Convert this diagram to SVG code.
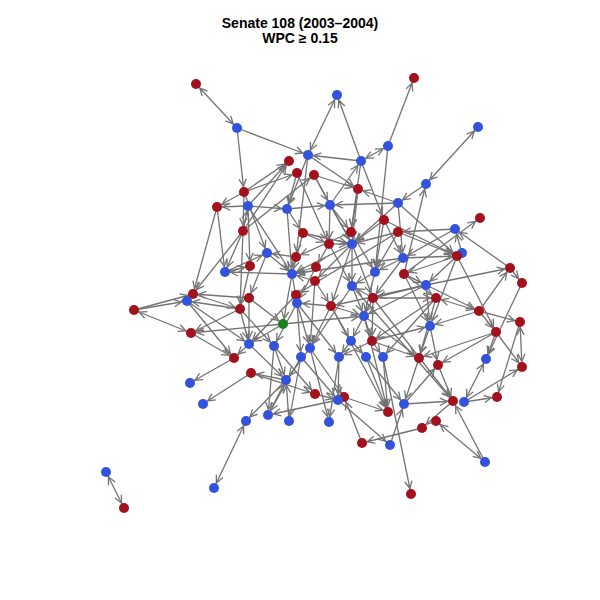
<svg xmlns="http://www.w3.org/2000/svg" width="600" height="600" viewBox="0 0 600 600">
<style>
.t{font-family:"Liberation Sans",Arial,sans-serif;font-weight:bold;font-size:14px;fill:#000;text-anchor:middle}
.e line{stroke:#737373;stroke-width:1.3;marker-end:url(#a)}
.e line.b{marker-start:url(#a)}
.R{fill:#A3111C}
.B{fill:#3352DD}
.G{fill:#1E7F1E}
</style>
<defs>
<marker id="a" viewBox="-15 -5 16 10" refX="0" refY="0" markerWidth="16" markerHeight="10" markerUnits="userSpaceOnUse" orient="auto-start-reverse">
<path d="M-13,-3.6 L-5.6,0 L-13,3.6" fill="none" stroke="#737373" stroke-width="1.3"/>
</marker>
</defs>
<rect width="600" height="600" fill="#fff"/>
<text class="t" x="300" y="28">Senate 108 (2003–2004)</text>
<text class="t" x="300" y="43">WPC ≥ 0.15</text>
<g id="edges" class="e">
<line class="b" x1="196" y1="84" x2="237" y2="128"/>
<line x1="237" y1="128" x2="308" y2="155"/>
<line x1="237" y1="128" x2="244" y2="192"/>
<line class="b" x1="308" y1="155" x2="337" y2="95"/>
<line x1="361" y1="161" x2="337" y2="95"/>
<line x1="361" y1="161" x2="308" y2="155"/>
<line class="b" x1="388" y1="146" x2="361" y2="161"/>
<line x1="388" y1="146" x2="414" y2="78"/>
<line class="b" x1="478" y1="127" x2="426" y2="184"/>
<line x1="426" y1="184" x2="398" y2="203"/>
<line x1="404" y1="274" x2="426" y2="184"/>
<line x1="398" y1="203" x2="330" y2="205"/>
<line x1="398" y1="203" x2="358" y2="189"/>
<line x1="330" y1="205" x2="361" y2="161"/>
<line x1="308" y1="155" x2="358" y2="189"/>
<line x1="314" y1="175" x2="358" y2="189"/>
<line x1="244" y1="192" x2="289" y2="161"/>
<line x1="248" y1="206" x2="289" y2="161"/>
<line x1="244" y1="192" x2="217" y2="207"/>
<line x1="248" y1="206" x2="217" y2="207"/>
<line x1="244" y1="192" x2="297" y2="173"/>
<line x1="243" y1="231" x2="289" y2="161"/>
<line x1="243" y1="231" x2="314" y2="175"/>
<line x1="308" y1="155" x2="296" y2="257"/>
<line x1="287" y1="209" x2="330" y2="205"/>
<line x1="314" y1="175" x2="352" y2="244"/>
<line x1="358" y1="189" x2="352" y2="244"/>
<line x1="330" y1="205" x2="352" y2="244"/>
<line x1="361" y1="161" x2="384" y2="220"/>
<line x1="361" y1="161" x2="351" y2="232"/>
<line x1="388" y1="146" x2="375" y2="272"/>
<line x1="384" y1="220" x2="352" y2="244"/>
<line x1="329" y1="244" x2="352" y2="244"/>
<line x1="330" y1="205" x2="329" y2="244"/>
<line x1="398" y1="203" x2="403" y2="258"/>
<line x1="455" y1="229" x2="398" y2="232"/>
<line x1="398" y1="232" x2="457" y2="256"/>
<line x1="404" y1="274" x2="480" y2="218"/>
<line x1="403" y1="258" x2="457" y2="256"/>
<line x1="384" y1="220" x2="457" y2="256"/>
<line x1="398" y1="203" x2="457" y2="256"/>
<line x1="457" y1="256" x2="430" y2="326"/>
<line x1="373" y1="298" x2="436" y2="298"/>
<line x1="510" y1="268" x2="455" y2="229"/>
<line x1="404" y1="274" x2="426" y2="285"/>
<line x1="457" y1="256" x2="426" y2="285"/>
<line x1="426" y1="285" x2="510" y2="268"/>
<line x1="510" y1="268" x2="522" y2="283"/>
<line class="b" x1="436" y1="298" x2="479" y2="311"/>
<line x1="404" y1="274" x2="479" y2="311"/>
<line x1="479" y1="311" x2="520" y2="322"/>
<line x1="479" y1="311" x2="496" y2="332"/>
<line x1="479" y1="311" x2="510" y2="268"/>
<line x1="457" y1="256" x2="496" y2="332"/>
<line x1="522" y1="283" x2="486" y2="359"/>
<line class="b" x1="520" y1="322" x2="522" y2="367"/>
<line x1="496" y1="332" x2="522" y2="367"/>
<line x1="496" y1="332" x2="419" y2="358"/>
<line x1="430" y1="326" x2="438" y2="365"/>
<line x1="372" y1="341" x2="430" y2="326"/>
<line x1="436" y1="298" x2="383" y2="357"/>
<line x1="404" y1="404" x2="453" y2="401"/>
<line x1="485" y1="462" x2="453" y2="401"/>
<line class="b" x1="485" y1="462" x2="436" y2="421"/>
<line x1="464" y1="402" x2="497" y2="397"/>
<line x1="520" y1="322" x2="497" y2="397"/>
<line x1="464" y1="402" x2="522" y2="367"/>
<line class="b" x1="486" y1="359" x2="464" y2="402"/>
<line x1="404" y1="404" x2="438" y2="365"/>
<line x1="390" y1="445" x2="404" y2="404"/>
<line x1="422" y1="428" x2="362" y2="443"/>
<line x1="362" y1="443" x2="344" y2="397"/>
<line x1="453" y1="401" x2="422" y2="428"/>
<line x1="383" y1="357" x2="411" y2="494"/>
<line x1="373" y1="298" x2="453" y2="401"/>
<line x1="352" y1="286" x2="453" y2="401"/>
<line x1="331" y1="306" x2="388" y2="412"/>
<line x1="364" y1="316" x2="388" y2="412"/>
<line class="b" x1="134" y1="310" x2="191" y2="333"/>
<line x1="134" y1="310" x2="187" y2="301"/>
<line x1="134" y1="310" x2="193" y2="294"/>
<line x1="217" y1="207" x2="193" y2="294"/>
<line x1="243" y1="231" x2="193" y2="294"/>
<line x1="249" y1="298" x2="193" y2="294"/>
<line x1="240" y1="309" x2="187" y2="301"/>
<line x1="292" y1="274" x2="225" y2="272"/>
<line x1="225" y1="272" x2="267" y2="253"/>
<line x1="187" y1="301" x2="249" y2="344"/>
<line x1="187" y1="301" x2="234" y2="358"/>
<line x1="191" y1="333" x2="234" y2="358"/>
<line x1="240" y1="309" x2="191" y2="333"/>
<line x1="283" y1="324" x2="191" y2="333"/>
<line x1="234" y1="358" x2="190" y2="383"/>
<line x1="251" y1="373" x2="203" y2="404"/>
<line class="b" x1="246" y1="421" x2="214" y2="488"/>
<line class="b" x1="106" y1="472" x2="124" y2="508"/>
<line x1="286" y1="380" x2="246" y2="421"/>
<line x1="338" y1="400" x2="268" y2="415"/>
<line x1="268" y1="415" x2="286" y2="380"/>
<line x1="251" y1="373" x2="315" y2="394"/>
<line x1="286" y1="380" x2="251" y2="373"/>
<line x1="339" y1="357" x2="329" y2="422"/>
<line x1="315" y1="394" x2="338" y2="400"/>
<line x1="310" y1="348" x2="344" y2="397"/>
<line x1="301" y1="357" x2="338" y2="400"/>
<line x1="303" y1="233" x2="292" y2="274"/>
<line x1="296" y1="257" x2="267" y2="253"/>
<line x1="287" y1="209" x2="292" y2="274"/>
<line x1="248" y1="206" x2="292" y2="274"/>
<line x1="248" y1="206" x2="250" y2="266"/>
<line x1="244" y1="192" x2="267" y2="253"/>
<line x1="243" y1="231" x2="240" y2="309"/>
<line x1="243" y1="231" x2="248" y2="206"/>
<line x1="248" y1="206" x2="287" y2="209"/>
<line x1="316" y1="267" x2="292" y2="274"/>
<line x1="315" y1="281" x2="292" y2="274"/>
<line x1="329" y1="244" x2="316" y2="267"/>
<line x1="292" y1="274" x2="297" y2="303"/>
<line x1="316" y1="267" x2="297" y2="303"/>
<line x1="331" y1="306" x2="297" y2="303"/>
<line x1="352" y1="244" x2="331" y2="306"/>
<line x1="352" y1="244" x2="352" y2="286"/>
<line x1="352" y1="244" x2="373" y2="298"/>
<line x1="351" y1="232" x2="375" y2="272"/>
<line x1="375" y1="272" x2="352" y2="286"/>
<line x1="373" y1="298" x2="352" y2="286"/>
<line x1="352" y1="286" x2="364" y2="316"/>
<line x1="373" y1="298" x2="364" y2="316"/>
<line x1="331" y1="306" x2="364" y2="316"/>
<line x1="283" y1="324" x2="364" y2="316"/>
<line x1="315" y1="281" x2="331" y2="306"/>
<line x1="352" y1="244" x2="315" y2="281"/>
<line x1="303" y1="233" x2="329" y2="244"/>
<line x1="287" y1="209" x2="303" y2="233"/>
<line x1="384" y1="220" x2="375" y2="272"/>
<line x1="398" y1="232" x2="352" y2="244"/>
<line x1="398" y1="203" x2="352" y2="244"/>
<line x1="403" y1="258" x2="373" y2="298"/>
<line x1="426" y1="285" x2="373" y2="298"/>
<line x1="426" y1="285" x2="364" y2="316"/>
<line x1="436" y1="298" x2="372" y2="341"/>
<line x1="364" y1="316" x2="351" y2="341"/>
<line x1="364" y1="316" x2="372" y2="341"/>
<line x1="331" y1="306" x2="351" y2="341"/>
<line x1="331" y1="306" x2="310" y2="348"/>
<line x1="297" y1="303" x2="310" y2="348"/>
<line x1="297" y1="303" x2="274" y2="346"/>
<line x1="297" y1="303" x2="301" y2="357"/>
<line x1="296" y1="295" x2="249" y2="344"/>
<line x1="283" y1="324" x2="249" y2="344"/>
<line x1="292" y1="274" x2="283" y2="324"/>
<line x1="249" y1="298" x2="283" y2="324"/>
<line x1="249" y1="298" x2="249" y2="344"/>
<line x1="240" y1="309" x2="274" y2="346"/>
<line x1="267" y1="253" x2="249" y2="298"/>
<line x1="250" y1="266" x2="240" y2="309"/>
<line x1="225" y1="272" x2="250" y2="266"/>
<line x1="249" y1="344" x2="234" y2="358"/>
<line x1="249" y1="344" x2="286" y2="380"/>
<line x1="274" y1="346" x2="286" y2="380"/>
<line x1="274" y1="346" x2="268" y2="415"/>
<line x1="310" y1="348" x2="286" y2="380"/>
<line x1="301" y1="357" x2="289" y2="421"/>
<line x1="351" y1="341" x2="339" y2="357"/>
<line x1="351" y1="341" x2="366" y2="357"/>
<line x1="372" y1="341" x2="339" y2="357"/>
<line x1="372" y1="341" x2="383" y2="357"/>
<line x1="366" y1="357" x2="388" y2="412"/>
<line x1="383" y1="357" x2="388" y2="412"/>
<line x1="339" y1="357" x2="338" y2="400"/>
<line x1="310" y1="348" x2="329" y2="422"/>
<line x1="274" y1="346" x2="315" y2="394"/>
<line x1="297" y1="303" x2="339" y2="357"/>
<line x1="352" y1="286" x2="310" y2="348"/>
<line x1="373" y1="298" x2="372" y2="341"/>
<line x1="364" y1="316" x2="419" y2="358"/>
<line x1="419" y1="358" x2="404" y2="404"/>
<line x1="372" y1="341" x2="419" y2="358"/>
<line x1="426" y1="285" x2="430" y2="326"/>
<line x1="404" y1="274" x2="430" y2="326"/>
<line x1="303" y1="233" x2="352" y2="244"/>
<line x1="315" y1="281" x2="310" y2="348"/>
<line x1="297" y1="173" x2="287" y2="209"/>
<line x1="308" y1="155" x2="287" y2="209"/>
<line x1="358" y1="189" x2="351" y2="232"/>
<line x1="330" y1="205" x2="351" y2="232"/>
<line x1="404" y1="274" x2="436" y2="298"/>
<line x1="462" y1="253" x2="455" y2="229"/>
<line x1="384" y1="220" x2="403" y2="258"/>
<line x1="436" y1="298" x2="419" y2="358"/>
<line x1="430" y1="326" x2="419" y2="358"/>
<line x1="366" y1="357" x2="404" y2="404"/>
<line x1="344" y1="397" x2="388" y2="412"/>
<line x1="338" y1="400" x2="390" y2="445"/>
<line x1="438" y1="365" x2="453" y2="401"/>
<line x1="496" y1="332" x2="486" y2="359"/>
<line x1="244" y1="192" x2="243" y2="231"/>
<line x1="217" y1="207" x2="225" y2="272"/>
<line x1="243" y1="231" x2="225" y2="272"/>
<line x1="267" y1="253" x2="292" y2="274"/>
<line x1="240" y1="309" x2="249" y2="344"/>
<line x1="193" y1="294" x2="240" y2="309"/>
<line x1="314" y1="175" x2="330" y2="205"/>
<line x1="297" y1="173" x2="329" y2="244"/>
<line x1="329" y1="244" x2="352" y2="286"/>
<line x1="375" y1="272" x2="364" y2="316"/>
<line x1="403" y1="258" x2="375" y2="272"/>
<line x1="398" y1="232" x2="375" y2="272"/>
<line x1="457" y1="256" x2="404" y2="274"/>
<line x1="455" y1="229" x2="403" y2="258"/>
<line x1="479" y1="311" x2="430" y2="326"/>
<line x1="496" y1="332" x2="438" y2="365"/>
<line x1="301" y1="357" x2="268" y2="415"/>
<line x1="289" y1="421" x2="286" y2="380"/>
<line x1="398" y1="232" x2="296" y2="295"/>
<line x1="403" y1="258" x2="292" y2="274"/>
<line x1="426" y1="285" x2="331" y2="306"/>
<line x1="351" y1="232" x2="296" y2="257"/>
<line x1="352" y1="244" x2="292" y2="274"/>
</g>
<g id="nodes">
<g id="r1"><circle class="R" cx="196" cy="84" r="5"/></g>
<g id="r2"><circle class="R" cx="414" cy="78" r="5"/></g>
<g id="r3"><circle class="R" cx="289" cy="161" r="5"/></g>
<g id="r4"><circle class="R" cx="297" cy="173" r="5"/></g>
<g id="r5"><circle class="R" cx="314" cy="175" r="5"/></g>
<g id="r6"><circle class="R" cx="358" cy="189" r="5"/></g>
<g id="r7"><circle class="R" cx="244" cy="192" r="5"/></g>
<g id="r8"><circle class="R" cx="217" cy="207" r="5"/></g>
<g id="r9"><circle class="R" cx="384" cy="220" r="5"/></g>
<g id="r10"><circle class="R" cx="480" cy="218" r="5"/></g>
<g id="r11"><circle class="R" cx="243" cy="231" r="5"/></g>
<g id="r12"><circle class="R" cx="303" cy="233" r="5"/></g>
<g id="r13"><circle class="R" cx="351" cy="232" r="5"/></g>
<g id="r14"><circle class="R" cx="329" cy="244" r="5"/></g>
<g id="r15"><circle class="R" cx="398" cy="232" r="5"/></g>
<g id="r16"><circle class="R" cx="296" cy="257" r="5"/></g>
<g id="r17"><circle class="R" cx="316" cy="267" r="5"/></g>
<g id="r18"><circle class="R" cx="250" cy="266" r="5"/></g>
<g id="r19"><circle class="R" cx="315" cy="281" r="5"/></g>
<g id="r20"><circle class="R" cx="249" cy="298" r="5"/></g>
<g id="r21"><circle class="R" cx="296" cy="295" r="5"/></g>
<g id="r22"><circle class="R" cx="331" cy="306" r="5"/></g>
<g id="r23"><circle class="R" cx="373" cy="298" r="5"/></g>
<g id="r24"><circle class="R" cx="193" cy="294" r="5"/></g>
<g id="r25"><circle class="R" cx="134" cy="310" r="5"/></g>
<g id="r26"><circle class="R" cx="240" cy="309" r="5"/></g>
<g id="r27"><circle class="R" cx="191" cy="333" r="5"/></g>
<g id="r28"><circle class="R" cx="234" cy="358" r="5"/></g>
<g id="r29"><circle class="R" cx="251" cy="373" r="5"/></g>
<g id="r30"><circle class="R" cx="315" cy="394" r="5"/></g>
<g id="r31"><circle class="R" cx="344" cy="397" r="5"/></g>
<g id="r32"><circle class="R" cx="372" cy="341" r="5"/></g>
<g id="b22"><circle class="B" cx="462" cy="253" r="5"/></g>
<g id="r33"><circle class="R" cx="457" cy="256" r="5"/></g>
<g id="r34"><circle class="R" cx="510" cy="268" r="5"/></g>
<g id="r35"><circle class="R" cx="522" cy="283" r="5"/></g>
<g id="r36"><circle class="R" cx="404" cy="274" r="5"/></g>
<g id="r37"><circle class="R" cx="436" cy="298" r="5"/></g>
<g id="r38"><circle class="R" cx="479" cy="311" r="5"/></g>
<g id="r39"><circle class="R" cx="520" cy="322" r="5"/></g>
<g id="r40"><circle class="R" cx="496" cy="332" r="5"/></g>
<g id="r41"><circle class="R" cx="419" cy="358" r="5"/></g>
<g id="r42"><circle class="R" cx="438" cy="365" r="5"/></g>
<g id="r43"><circle class="R" cx="522" cy="367" r="5"/></g>
<g id="r44"><circle class="R" cx="453" cy="401" r="5"/></g>
<g id="r45"><circle class="R" cx="497" cy="397" r="5"/></g>
<g id="r46"><circle class="R" cx="388" cy="412" r="5"/></g>
<g id="r47"><circle class="R" cx="436" cy="421" r="5"/></g>
<g id="r48"><circle class="R" cx="422" cy="428" r="5"/></g>
<g id="r49"><circle class="R" cx="362" cy="443" r="5"/></g>
<g id="r50"><circle class="R" cx="411" cy="494" r="5"/></g>
<g id="r51"><circle class="R" cx="124" cy="508" r="5"/></g>
<g id="b1"><circle class="B" cx="237" cy="128" r="5"/></g>
<g id="b2"><circle class="B" cx="337" cy="95" r="5"/></g>
<g id="b3"><circle class="B" cx="478" cy="127" r="5"/></g>
<g id="b4"><circle class="B" cx="308" cy="155" r="5"/></g>
<g id="b5"><circle class="B" cx="361" cy="161" r="5"/></g>
<g id="b6"><circle class="B" cx="388" cy="146" r="5"/></g>
<g id="b7"><circle class="B" cx="426" cy="184" r="5"/></g>
<g id="b8"><circle class="B" cx="248" cy="206" r="5"/></g>
<g id="b9"><circle class="B" cx="287" cy="209" r="5"/></g>
<g id="b10"><circle class="B" cx="330" cy="205" r="5"/></g>
<g id="b11"><circle class="B" cx="398" cy="203" r="5"/></g>
<g id="b12"><circle class="B" cx="352" cy="244" r="5"/></g>
<g id="b13"><circle class="B" cx="267" cy="253" r="5"/></g>
<g id="b14"><circle class="B" cx="292" cy="274" r="5"/></g>
<g id="b15"><circle class="B" cx="225" cy="272" r="5"/></g>
<g id="b16"><circle class="B" cx="187" cy="301" r="5"/></g>
<g id="b17"><circle class="B" cx="375" cy="272" r="5"/></g>
<g id="b18"><circle class="B" cx="352" cy="286" r="5"/></g>
<g id="b19"><circle class="B" cx="297" cy="303" r="5"/></g>
<g id="b20"><circle class="B" cx="364" cy="316" r="5"/></g>
<g id="b21"><circle class="B" cx="455" cy="229" r="5"/></g>
<g id="b23"><circle class="B" cx="403" cy="258" r="5"/></g>
<g id="b24"><circle class="B" cx="426" cy="285" r="5"/></g>
<g id="b25"><circle class="B" cx="430" cy="326" r="5"/></g>
<g id="b26"><circle class="B" cx="486" cy="359" r="5"/></g>
<g id="b27"><circle class="B" cx="249" cy="344" r="5"/></g>
<g id="b28"><circle class="B" cx="274" cy="346" r="5"/></g>
<g id="b29"><circle class="B" cx="310" cy="348" r="5"/></g>
<g id="b30"><circle class="B" cx="301" cy="357" r="5"/></g>
<g id="b31"><circle class="B" cx="351" cy="341" r="5"/></g>
<g id="b32"><circle class="B" cx="339" cy="357" r="5"/></g>
<g id="b33"><circle class="B" cx="366" cy="357" r="5"/></g>
<g id="b34"><circle class="B" cx="383" cy="357" r="5"/></g>
<g id="b35"><circle class="B" cx="286" cy="380" r="5"/></g>
<g id="b36"><circle class="B" cx="338" cy="400" r="5"/></g>
<g id="b37"><circle class="B" cx="190" cy="383" r="5"/></g>
<g id="b38"><circle class="B" cx="203" cy="404" r="5"/></g>
<g id="b39"><circle class="B" cx="246" cy="421" r="5"/></g>
<g id="b40"><circle class="B" cx="268" cy="415" r="5"/></g>
<g id="b41"><circle class="B" cx="289" cy="421" r="5"/></g>
<g id="b42"><circle class="B" cx="329" cy="422" r="5"/></g>
<g id="b43"><circle class="B" cx="390" cy="445" r="5"/></g>
<g id="b44"><circle class="B" cx="404" cy="404" r="5"/></g>
<g id="b45"><circle class="B" cx="464" cy="402" r="5"/></g>
<g id="b46"><circle class="B" cx="485" cy="462" r="5"/></g>
<g id="b47"><circle class="B" cx="106" cy="472" r="5"/></g>
<g id="b48"><circle class="B" cx="214" cy="488" r="5"/></g>
<g id="g1"><circle class="G" cx="283" cy="324" r="5"/></g>
</g>
</svg>
